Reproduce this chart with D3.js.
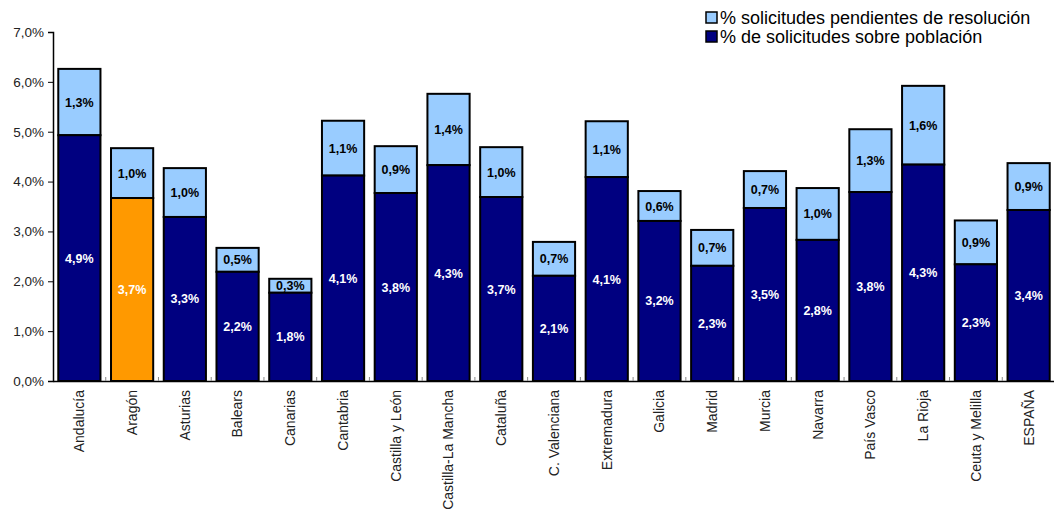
<!DOCTYPE html>
<html>
<head>
<meta charset="utf-8">
<script src="https://cdn.jsdelivr.net/npm/d3@7"></script>
<style>
  body { margin: 0; background: #fff; }
  svg { font-family: "Liberation Sans", Arial, sans-serif; }
</style>
</head>
<body>
<div id="chart"></div>
<script>

var categories = ["Andalucía", "Aragón", "Asturias", "Balears", "Canarias", "Cantabria",
  "Castilla y León", "Castilla-La Mancha", "Cataluña", "C. Valenciana", "Extremadura",
  "Galicia", "Madrid", "Murcia", "Navarra", "País Vasco", "La Rioja", "Ceuta y Melilla", "ESPAÑA"];
// % de solicitudes sobre población
var baseValues = [4.93, 3.67, 3.29, 2.19, 1.77, 4.12, 3.77, 4.33, 3.69, 2.11, 4.09,
  3.21, 2.31, 3.47, 2.83, 3.79, 4.34, 2.34, 3.43];
// % solicitudes pendientes de resolución
var pendingValues = [1.33, 1.0, 0.98, 0.48, 0.28, 1.10, 0.94, 1.43, 1.0, 0.68, 1.12,
  0.60, 0.72, 0.74, 1.04, 1.26, 1.58, 0.88, 0.94];
var yTicks = [0, 1, 2, 3, 4, 5, 6, 7];
var legendLabels = ["% solicitudes pendientes de resolución", "% de solicitudes sobre población"];

var width = 1054, height = 512,
  margin = {top: 32, right: 0, bottom: 131, left: 53};

var fmt = function (v) { return v.toFixed(1).replace(".", ",") + "%"; };

var svg = d3.select("#chart").append("svg")
  .attr("width", width)
  .attr("height", height);

var x = d3.scaleBand()
  .domain(categories)
  .range([margin.left, 1055])
  .paddingInner(0.2)
  .paddingOuter(0.1);

var y = d3.scaleLinear()
  .domain([0, 7])
  .range([height - margin.bottom, margin.top]);

// bars
var g = svg.append("g");
categories.forEach(function (c, i) {
  var b = baseValues[i], p = pendingValues[i];
  g.append("rect")
    .attr("x", x(c))
    .attr("y", y(b + p))
    .attr("width", x.bandwidth())
    .attr("height", y(b) - y(b + p))
    .attr("fill", "#99ccff")
    .attr("stroke", "#000")
    .attr("stroke-width", 2);
  g.append("rect")
    .attr("x", x(c))
    .attr("y", y(b))
    .attr("width", x.bandwidth())
    .attr("height", y(0) - y(b))
    .attr("fill", c === "Aragón" ? "#ff9900" : "#000080")
    .attr("stroke", "#000")
    .attr("stroke-width", 2);
  g.append("text")
    .attr("x", x(c) + x.bandwidth() / 2)
    .attr("y", (y(b) + y(b + p)) / 2 + 4.5)
    .attr("text-anchor", "middle")
    .attr("font-size", 12.5)
    .attr("font-weight", "bold")
    .attr("fill", "#000")
    .text(fmt(p));
  g.append("text")
    .attr("x", x(c) + x.bandwidth() / 2)
    .attr("y", (y(0) + y(b)) / 2 + 4.5)
    .attr("text-anchor", "middle")
    .attr("font-size", 12.5)
    .attr("font-weight", "bold")
    .attr("fill", "#fff")
    .text(fmt(b));
});

// y axis
var yAxis = svg.append("g")
  .attr("transform", "translate(" + margin.left + ",0)")
  .call(d3.axisLeft(y).tickValues(yTicks).tickSize(5).tickPadding(4)
    .tickFormat(function (d) { return d.toFixed(1).replace(".", ",") + "%"; }));
yAxis.select(".domain").attr("stroke", "#000").attr("stroke-width", 1.5);
yAxis.selectAll(".tick line").attr("stroke", "#000");
yAxis.selectAll("text").attr("font-size", 13.5).attr("fill", "#222")
  .attr("font-family", "Liberation Sans, Arial, sans-serif");

// x axis
var xAxis = svg.append("g")
  .attr("transform", "translate(0," + y(0) + ")")
  .call(d3.axisBottom(x).tickSize(0).tickPadding(9));
xAxis.select(".domain").attr("stroke", "#000").attr("stroke-width", 1.5);
xAxis.selectAll("text")
  .attr("font-size", 14)
  .attr("fill", "#222")
  .attr("font-family", "Liberation Sans, Arial, sans-serif")
  .attr("transform", "rotate(-90)")
  .attr("text-anchor", "end")
  .attr("x", -9)
  .attr("y", 0)
  .attr("dy", "0.35em");

// small inward ticks between categories
var step = x.step();
svg.append("g").selectAll("line")
  .data(categories.slice(1))
  .enter().append("line")
  .attr("x1", function (d) { return x(d) - (step - x.bandwidth()) / 2; })
  .attr("x2", function (d) { return x(d) - (step - x.bandwidth()) / 2; })
  .attr("y1", y(0))
  .attr("y2", y(0) - 4)
  .attr("stroke", "#888")
  .attr("stroke-width", 1);

// legend
var legend = svg.append("g").attr("transform", "translate(706,12)");
var legendColors = ["#99ccff", "#000080"];
legendLabels.forEach(function (t, i) {
  legend.append("rect")
    .attr("x", 0)
    .attr("y", i * 19)
    .attr("width", 11)
    .attr("height", 11)
    .attr("fill", legendColors[i])
    .attr("stroke", "#000")
    .attr("stroke-width", 1.5);
  legend.append("text")
    .attr("x", 14)
    .attr("y", i * 19 + 12)
    .attr("font-size", 18)
    .attr("fill", "#000")
    .text(t);
});

</script>
</body>
</html>
